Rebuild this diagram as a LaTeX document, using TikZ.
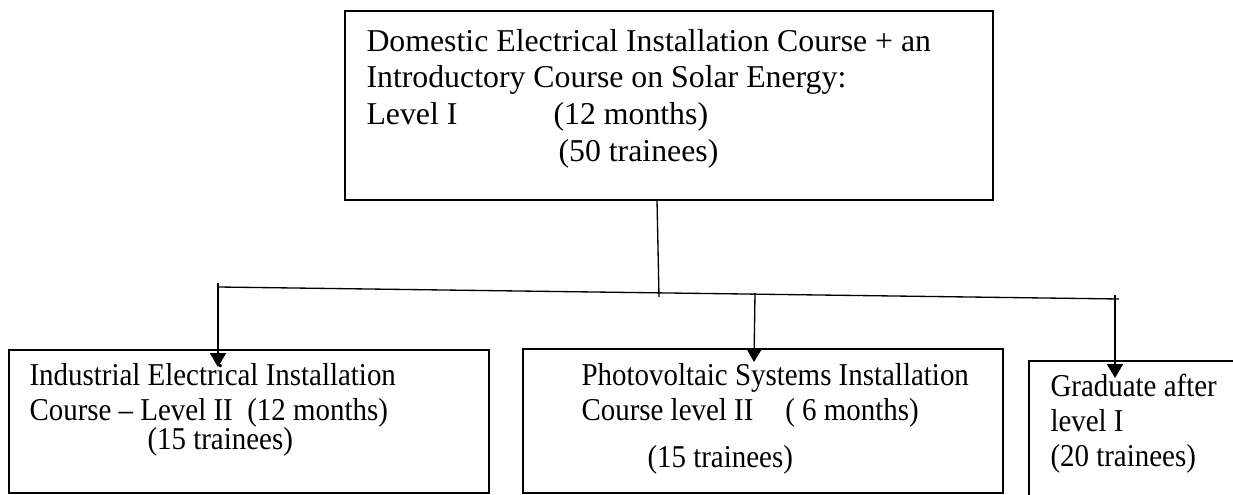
\documentclass[tikz,border=0pt]{standalone}
\usepackage{fontspec}
\setmainfont{Liberation Serif}
\newfontfamily\narrowserif[FakeStretch=0.91]{Liberation Serif}
\usetikzlibrary{arrows.meta,fit}
\begin{document}
\begin{tikzpicture}[x=0.3774pt,y=-0.3774pt,
  box/.style={draw,line width=0.55pt,inner sep=0pt},
  txt/.style={anchor=base west,inner sep=0pt,font=\fontsize{12pt}{14pt}\selectfont},
  txtn/.style={anchor=base west,inner sep=0pt,font=\narrowserif\fontsize{12pt}{14pt}\selectfont},
  link/.style={line width=0.5pt},
  arr/.style={line width=0.5pt,-{Triangle[width=6pt,length=5.2pt]}}]
\useasboundingbox (0,0) rectangle (1233,495);

% boxes
\node[box,fit={(345,11) (993,200)}] (top) {};
\node[box,fit={(9,350) (489,493)}] (b1) {};
\node[box,fit={(523,349) (1003,493)}] (b2) {};
\node[box,fit={(1029,361) (1250,510)}] (b3) {};

% texts
\node[txt] (t1) at (366,52) {Domestic Electrical Installation Course + an};
\node[txt] (t2) at (366,88) {Introductory Course on Solar Energy:};
\node[txt] (t3) at (366,125) {Level I};
\node[txt] (t3m) at (553,125) {(12 months)};
\node[txt] (t4) at (558,162) {(50 trainees)};

\node[txtn] (a1) at (29,386) {Industrial Electrical Installation};
\node[txtn] (a2) at (29,421) {Course – Level II\ \ (12 months)};
\node[txtn] (a3) at (147,450) {(15 trainees)};

\node[txtn] (p1) at (581,386) {Photovoltaic Systems Installation};
\node[txtn] (p2) at (581,421) {Course level II\hspace{1em}( 6 months)};
\node[txtn] (p3) at (647,468) {(15 trainees)};

\node[txtn] (g1) at (1050,397) {Graduate after};
\node[txtn] (g2) at (1050,432) {level I};
\node[txtn] (g3) at (1050,467) {(20 trainees)};

% connector points
\coordinate (tS) at (657,200);
\coordinate (hM) at (659,297);
\coordinate (hL) at (218,287);
\coordinate (hR) at (1119,299);
\coordinate (lTop) at (218,283);
\coordinate (lTip) at (218,367);
\coordinate (mTop) at (755,293);
\coordinate (mTip) at (754,362);
\coordinate (rTop) at (1115,295);
\coordinate (rTip) at (1115,378);

\draw[link] (tS) -- (hM);
\draw[link] (hL) -- (hR);
\draw[arr] (lTop) -- (lTip);
\draw[arr] (mTop) -- (mTip);
\draw[arr] (rTop) -- (rTip);
\end{tikzpicture}
\end{document}
